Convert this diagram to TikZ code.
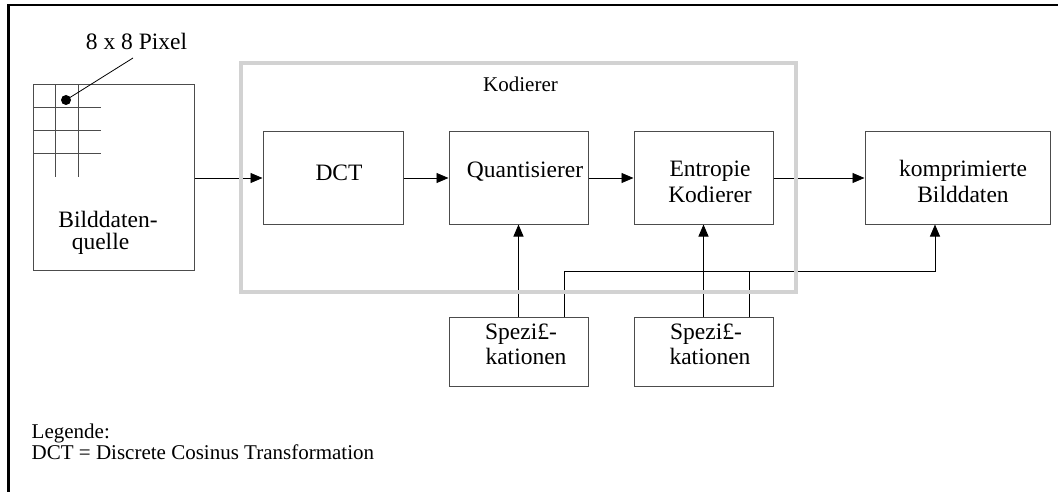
\documentclass[tikz,border=0pt]{standalone}
\usepackage{fontspec}
\setmainfont{Liberation Serif}
\usetikzlibrary{arrows.meta}

\newcommand\blockfont{\fontsize{23.5}{26}\selectfont}
\newcommand\legendfont{\fontsize{21}{24}\selectfont}

\tikzset{
  box/.style={draw=black!70, line width=1pt, inner sep=0pt, fill=white},
  grid line/.style={draw=black!70, line width=1pt},
  conn/.style={draw=black, line width=0.9pt},
  arr/.style={conn, -{Triangle[length=12pt,width=10pt]}},
  kodframe/.style={draw=gray!35, line width=4.5pt, inner sep=0pt},
  frameline/.style={draw=black, line width=2.3pt, line join=miter},
  txt/.style={font=\blockfont, inner sep=0pt, anchor=base},
  smalltxt/.style={font=\legendfont, inner sep=0pt, anchor=base},
}

\begin{document}
\begin{tikzpicture}[x=1pt, y=-1pt]
\useasboundingbox (0,0) rectangle (1058,492);

% outer frame (top and left edge)
\draw[frameline] (8.5,492) -- (8.5,5) -- (1058,5);

% image source with pixel grid
\node[box, minimum width=161pt, minimum height=185pt] (src) at (113.5,177.5) {};
\foreach \gx in {55,78} \draw[grid line] (\gx,85) -- (\gx,177);
\foreach \gy in {108,131,154} \draw[grid line] (33,\gy) -- (101,\gy);
\node[circle, fill=black, inner sep=0pt, minimum size=10pt] (dot) at (66,100) {};
\coordinate (lead) at (133,58);
\draw[conn, line width=0.8pt] (dot.center) -- (lead);
\node[txt] (pixel) at (136.5,50) {8 x 8 Pixel};
\node[txt] (src1) at (108,227) {Bilddaten-};
\node[txt] (src2) at (100.5,249) {quelle};

% processing blocks
\node[box, minimum width=140pt, minimum height=92pt] (dct)   at (333,178)   {};
\node[box, minimum width=139pt, minimum height=92pt] (quant) at (518.5,178) {};
\node[box, minimum width=139pt, minimum height=92pt] (ent)   at (703.5,178) {};
\node[box, minimum width=185pt, minimum height=92pt] (komp)  at (957.5,178) {};
\node[box, minimum width=139pt, minimum height=69pt] (spec1) at (518.5,351.5) {};
\node[box, minimum width=139pt, minimum height=69pt] (spec2) at (703.5,351.5) {};

\node[txt] (dcttxt) at (339,180) {DCT};
\node[txt] (quanttxt) at (525,178) {Quantisierer};
\node[txt] (ent1) at (710,176) {Entropie};
\node[txt] (ent2) at (710,202) {Kodierer};
\node[txt] (komp1) at (963,177) {komprimierte};
\node[txt] (komp2) at (963,202) {Bilddaten};
\node[txt] (spa1) at (521,339) {Spezi£-};
\node[txt] (spa2) at (526,364) {kationen};
\node[txt] (spb1) at (706,339) {Spezi£-};
\node[txt] (spb2) at (710,364) {kationen};

% signal flow
\draw[arr] (src.east |- dct.west) -- (dct.west);
\draw[arr] (dct.east) -- (quant.west);
\draw[arr] (quant.east) -- (ent.west);
\draw[arr] (ent.east) -- (komp.west);
\draw[arr] (spec1.north) -- (quant.south);
\draw[arr] (spec2.north) -- (ent.south);

% specification bus to the output
\coordinate (bus) at (935,271);
\coordinate (tapa) at ([xshift=45.5pt]spec1.north);
\coordinate (tapb) at ([xshift=45.5pt]spec2.north);
\draw[arr] (tapa) |- (bus) -- (bus |- komp.south);
\draw[conn] (tapb) -- (tapb |- bus);

% coder frame
\node[kodframe, minimum width=555pt, minimum height=229pt] (coder) at (518.5,177.5) {};
\node[smalltxt] (codertxt) at (520.5,92) {Kodierer};

% legend
\node[smalltxt, anchor=base west] (leg1) at (31.5,438) {Legende:};
\node[smalltxt, anchor=base west] (leg2) at (31.5,459) {DCT = Discrete Cosinus Transformation};
\end{tikzpicture}
\end{document}
